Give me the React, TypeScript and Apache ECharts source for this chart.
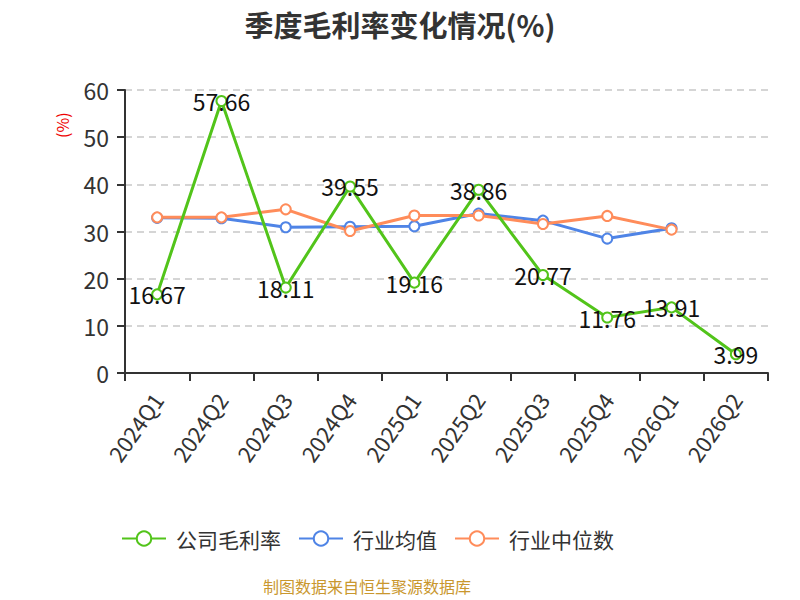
import React, { useEffect, useRef } from "react";
import * as echarts from "echarts";

const categories = ["2024Q1", "2024Q2", "2024Q3", "2024Q4", "2025Q1", "2025Q2", "2025Q3", "2025Q4", "2026Q1", "2026Q2"];
const companyMargin = [16.67, 57.66, 18.11, 39.55, 19.16, 38.86, 20.77, 11.76, 13.91, 3.99];
const industryAvg = [32.9, 32.8, 30.9, 31.0, 31.1, 33.8, 32.3, 28.5, 30.7, null];
const industryMedian = [33.0, 33.0, 34.7, 30.1, 33.4, 33.4, 31.6, 33.3, 30.4, null];
const yTicks = { min: 0, max: 60, interval: 10 };

const FONT = "'Noto Sans CJK SC', 'Noto Sans', sans-serif";

export default function App() {
  const ref = useRef<HTMLDivElement>(null);
  useEffect(() => {
    document.body.style.margin = "0";
    const chart = echarts.init(ref.current!, undefined, { renderer: "svg" });
    chart.setOption({
      animation: false,
      textStyle: { fontFamily: FONT },
      title: {
        text: "季度毛利率变化情况(%)",
        left: "center",
        top: 4,
        textStyle: { fontSize: 29, fontWeight: "bold", color: "#333", fontFamily: FONT },
      },
      grid: { left: 125, right: 32, top: 90, bottom: 227, containLabel: false },
      legend: {
        bottom: 46,
        left: 116,
        itemWidth: 44,
        itemHeight: 18,
        itemGap: 17,
        textStyle: { fontSize: 21, color: "#333", fontFamily: FONT, padding: [0, 0, 0, 5] },
        data: ["公司毛利率", "行业均值", "行业中位数"],
      },
      xAxis: {
        type: "category",
        data: categories,
        boundaryGap: true,
        axisLine: { lineStyle: { color: "#333", width: 2 } },
        axisTick: { show: true, alignWithLabel: false, length: 8, lineStyle: { width: 2, color: "#333" } },
        axisLabel: { rotate: 55, fontSize: 22, color: "#333", margin: 22, interval: 0, fontFamily: FONT },
      },
      yAxis: {
        type: "value",
        min: yTicks.min,
        max: yTicks.max,
        interval: yTicks.interval,
        axisLine: { show: true, lineStyle: { color: "#333", width: 2 } },
        axisTick: { show: true, length: 8, lineStyle: { width: 2, color: "#333" } },
        axisLabel: { fontSize: 23, color: "#333", margin: 16, fontFamily: FONT },
        splitLine: { lineStyle: { type: [7, 5], color: "#c8c8c8", width: 1.5 } },
      },
      graphic: [
        {
          type: "text",
          x: 54,
          y: 138,
          rotation: Math.PI / 2,
          style: { text: "(%)", fill: "#e00", fontSize: 16, fontFamily: FONT },
        },
        {
          type: "text",
          left: 263,
          top: 578,
          style: { text: "制图数据来自恒生聚源数据库", fill: "#c9972e", fontSize: 16, fontFamily: FONT },
        },
      ],
      series: [
        {
          name: "公司毛利率",
          type: "line",
          data: companyMargin,
          symbol: "emptyCircle",
          symbolSize: 10,
          itemStyle: { color: "#52c41a" },
          lineStyle: { width: 3, color: "#52c41a" },
          label: { show: true, position: "inside", fontSize: 23, color: "#111", fontFamily: FONT },
          z: 3,
        },
        {
          name: "行业均值",
          type: "line",
          data: industryAvg,
          symbol: "emptyCircle",
          symbolSize: 10,
          itemStyle: { color: "#4f84e6" },
          lineStyle: { width: 3, color: "#4f84e6" },
          z: 2,
        },
        {
          name: "行业中位数",
          type: "line",
          data: industryMedian,
          symbol: "emptyCircle",
          symbolSize: 10,
          itemStyle: { color: "#ff8c5a" },
          lineStyle: { width: 3, color: "#ff8c5a" },
          z: 2,
        },
      ],
    });
    return () => chart.dispose();
  }, []);
  return <div ref={ref} style={{ width: 800, height: 600 }} />;
}
